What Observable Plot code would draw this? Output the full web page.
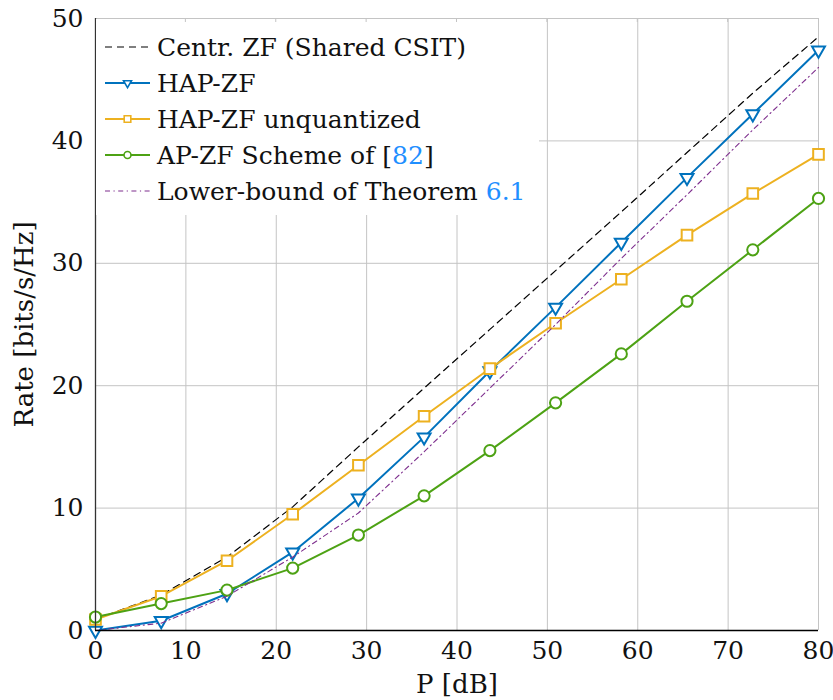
<!DOCTYPE html>
<html>
<head>
<meta charset="utf-8">
<script src="https://cdn.jsdelivr.net/npm/d3@7"></script>
<script src="https://cdn.jsdelivr.net/npm/@observablehq/plot@0.6"></script>
<style>
  html, body { margin: 0; padding: 0; background: #fff; }
  #chart { position: relative; width: 833px; height: 700px; }
  #legend { position: absolute; left: 0; top: 0; }
</style>
</head>
<body>
<div id="chart"></div>
<script>
// ---- data ----
const P = [0, 7.27, 14.55, 21.82, 29.09, 36.36, 43.64, 50.91, 58.18, 65.45, 72.73, 80];
const centrZF     = [0.9, 2.9, 6.0, 10.1, 15.0, 19.8, 24.6, 29.4, 34.2, 39.05, 43.9, 48.5];
const hapZF       = [0.0, 0.8, 3.0, 6.4, 10.8, 15.8, 21.2, 26.4, 31.7, 37.0, 42.2, 47.4];
const hapZFUnq    = [0.9, 2.8, 5.7, 9.5, 13.5, 17.5, 21.4, 25.1, 28.7, 32.3, 35.7, 38.9];
const apZF        = [1.1, 2.2, 3.3, 5.1, 7.8, 11.0, 14.7, 18.6, 22.6, 26.9, 31.1, 35.3];
const lowerBound  = [0.0, 0.6, 2.8, 6.0, 9.6, 14.6, 19.8, 25.0, 30.4, 35.6, 40.9, 46.0];
const xTicks = [0, 10, 20, 30, 40, 50, 60, 70, 80];
const yTicks = [0, 10, 20, 30, 40, 50];
const seriesNames = [
  "Centr. ZF (Shared CSIT)",
  "HAP-ZF",
  "HAP-ZF unquantized",
  "AP-ZF Scheme of [82]",
  "Lower-bound of Theorem 6.1"
];
const xLabel = "P [dB]";
const yLabel = "Rate [bits/s/Hz]";

// ---- styles ----
const FONT = "DejaVu Serif";
const LINK = "#1f8fff";
const GRID = "#c4c4c4";
const styles = [
  {color: "#000000", dash: "7,5", width: 1.2, symbol: null},
  {color: "#0072BD", dash: null, width: 2, symbol: "triangle", rotate: 180, r: 4.8},
  {color: "#EDB120", dash: null, width: 2, symbol: "square", r: 6.0},
  {color: "#4DA214", dash: null, width: 2, symbol: "circle", r: 5.6},
  {color: "#7E2F8E", dash: "5,3.5,1.2,3.5", width: 1.1, symbol: null}
];
const allValues = [centrZF, hapZF, hapZFUnq, apZF, lowerBound];
const tables = allValues.map((vals, k) => P.map((p, i) => ({P: p, R: vals[i], s: seriesNames[k]})));

const marks = [
  Plot.gridX(xTicks.filter(d => d > 0), {stroke: GRID, strokeOpacity: 1, strokeWidth: 1}),
  Plot.gridY(yTicks.filter(d => d > 0), {stroke: GRID, strokeOpacity: 1, strokeWidth: 1}),
  Plot.axisX(xTicks, {tickSize: 0, tickPadding: 11, fontSize: 25, label: null, tickFormat: d => String(d)}),
  Plot.axisY(yTicks, {tickSize: 0, tickPadding: 12, fontSize: 25, label: null, tickFormat: d => String(d)}),
];
tables.forEach((t, k) => {
  const st = styles[k];
  marks.push(Plot.line(t, {x: "P", y: "R", stroke: st.color, strokeWidth: st.width,
    strokeDasharray: st.dash || undefined, strokeLinejoin: "round"}));
  if (st.symbol) {
    marks.push(Plot.dot(t, {x: "P", y: "R", symbol: st.symbol, r: st.r, rotate: st.rotate || 0,
      stroke: st.color, strokeWidth: 2, fill: "white"}));
  }
});
marks.push(
  Plot.ruleX([0], {stroke: "#333", strokeWidth: 1.3}),
  Plot.ruleY([0], {stroke: "#000", strokeWidth: 1.5}),
  Plot.text([xLabel], {frameAnchor: "bottom", dy: 54, lineAnchor: "middle", textAnchor: "middle", fontSize: 26, fill: "#111"}),
  Plot.text([yLabel], {frameAnchor: "left", dx: -71, rotate: -90, lineAnchor: "middle", textAnchor: "middle", fontSize: 26, fill: "#111"})
);

const plot = Plot.plot({
  width: 833,
  height: 700,
  marginLeft: 95,
  marginRight: 15,
  marginTop: 18,
  marginBottom: 70,
  x: {domain: [0, 80]},
  y: {domain: [0, 50]},
  style: {fontFamily: FONT, fontSize: "25px", color: "#111", background: "white"},
  marks
});
const chart = document.getElementById("chart");
chart.appendChild(plot);

// ---- legend (decoration, overlaid) ----
const sx = plot.scale("x"), sy = plot.scale("y");
const lg = d3.select(chart).append("svg").attr("id", "legend")
  .attr("width", 833).attr("height", 700)
  .style("pointer-events", "none");
const g = lg.append("g").attr("font-family", FONT).attr("font-size", 25).attr("text-anchor", "start");
const x0 = sx.apply(0), yTop = sy.apply(50);
g.append("rect").attr("x", x0 + 1).attr("y", yTop + 1).attr("width", 443).attr("height", 196).attr("fill", "white");
// inward ticks on top edge
g.selectAll("line.tt").data(xTicks.filter(d => d > 0 && d < 80)).join("line")
  .attr("x1", d => sx.apply(d)).attr("x2", d => sx.apply(d))
  .attr("y1", yTop).attr("y2", yTop + 4).attr("stroke", GRID);
const rowY = [47, 83, 119, 155, 191];
styles.forEach((st, k) => {
  const y = rowY[k];
  g.append("line").attr("x1", 105).attr("x2", 150).attr("y1", y).attr("y2", y)
    .attr("stroke", st.color).attr("stroke-width", st.width)
    .attr("stroke-dasharray", st.dash || null);
  if (st.symbol) {
    const sym = {triangle: d3.symbolTriangle, square: d3.symbolSquare, circle: d3.symbolCircle}[st.symbol];
    const rr = st.r * 0.62;
    g.append("path").attr("d", d3.symbol(sym, Math.PI * rr * rr)())
      .attr("transform", `translate(127.5,${y}) rotate(${st.rotate || 0})`)
      .attr("fill", "white").attr("stroke", st.color).attr("stroke-width", 1.6);
  }
  const t = g.append("text").attr("x", 157).attr("y", y).attr("dy", "0.35em").attr("fill", "#111");
  const name = seriesNames[k];
  const m = name.match(/^(.*\[)(\d+)(\].*)$/) || name.match(/^(.*Theorem )([\d.]+)()$/);
  if (m) {
    t.append("tspan").text(m[1]);
    t.append("tspan").attr("fill", LINK).text(m[2]);
    if (m[3]) t.append("tspan").text(m[3]);
  } else {
    t.text(name);
  }
});
</script>
</body>
</html>
